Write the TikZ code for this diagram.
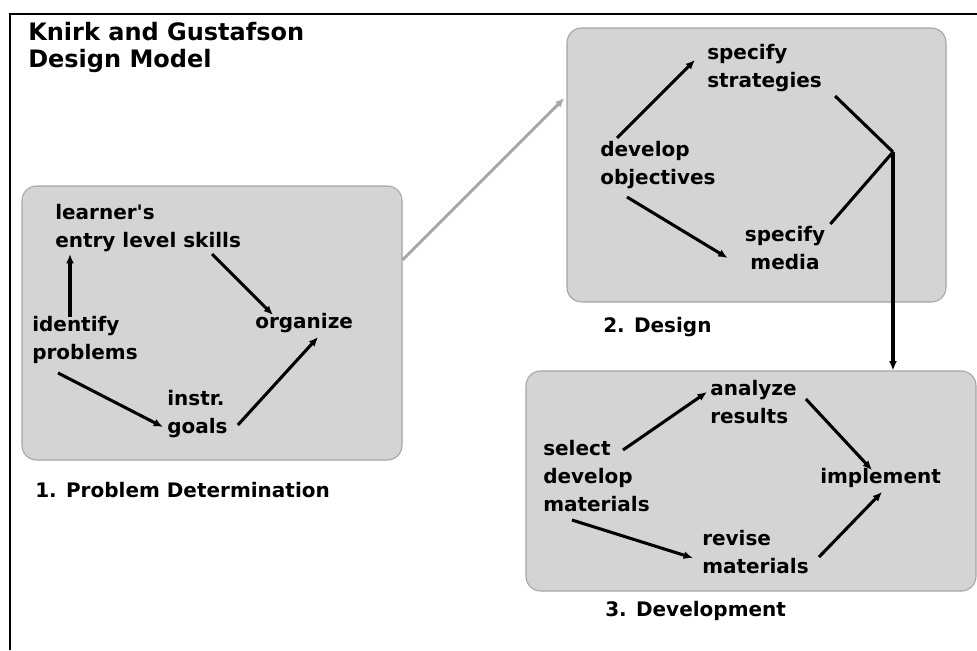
\documentclass[tikz,border=0pt]{standalone}
\usepackage{fontspec}
\setmainfont{DejaVu Sans}
\usetikzlibrary{calc,arrows.meta}

\definecolor{panelgray}{RGB}{212,212,212}
\definecolor{panelline}{RGB}{165,165,165}
\definecolor{linkgray}{RGB}{168,168,168}

\begin{document}
\begin{tikzpicture}[x=0.75pt,y=-0.75pt,
	every node/.style={inner sep=0pt,font=\bfseries\fontsize{15}{21}\selectfont},
	txt/.style={anchor=west,align=left},
	panel/.style={draw=panelline,fill=panelgray,rounded corners=11pt,line width=0.8pt},
	arr/.style={line width=2.3pt,-{Latex[length=7pt,width=6pt]}}]
				\useasboundingbox (0,0) rectangle (977,650);
				%% frame and title
				\draw[line width=1.5pt] (10,650) -- (10,14) -- (977,14);
				\node[txt,anchor=north west,font=\bfseries\fontsize{18}{20}\selectfont] (title) at (28,22){Knirk and Gustafson\\Design Model};
				%% the three panels placed by hand
				\node[panel,minimum width=285pt,minimum height=205.5pt] (prob) at (212,323){};
				\node[panel,minimum width=284.25pt,minimum height=205.5pt] (des) at (756.5,165){};
				\node[panel,minimum width=337.5pt,minimum height=165pt] (dev) at (751,481){};
				\node[txt] (probl) at (35,490){1. Problem Determination};
				\node[txt] (desl) at (603,327){2. Design};
				\node[txt] (devl) at (605,611){3. Development};
				%% step texts of panel 1
				\node[txt] (learner) at (55,228){learner\textquotesingle s\\entry level skills};
				\node[txt] (ident) at (32,340){identify\\problems};
				\node[txt] (org) at (255,323){organize};
				\node[txt] (instr) at (167,414){instr.\\goals};
				%% step texts of panel 2
				\node[txt] (strat) at (707,68){specify\\strategies};
				\node[txt] (devobj) at (600,165){develop\\objectives};
				\node[align=center] (media) at (785,248){specify\\media};
				\coordinate (jn) at (893,152);
				%% step texts of panel 3
				\node[txt] (anal) at (710,402){analyze\\results};
				\node[txt] (sel) at (543,476){select\\develop\\materials};
				\node[txt] (impl) at (820,478){implement};
				\node[txt] (rev) at (702,552){revise\\materials};
				%% arrows inside panel 1
				\draw[arr] ([shift={(38,1)}]ident.north west) -- ([shift={(15,2)}]learner.south west);
				\draw[arr] ([shift={(157,2)}]learner.south west) -- ([shift={(18,2)}]org.north west);
				\draw[arr] ([shift={(26,9)}]ident.south west) -- ([shift={(-4,13)}]instr.west);
				\draw[arr] ([shift={(10,11)}]instr.east) -- ([shift={(14,4)}]org.south);
				%% panel 1 to panel 2
				\draw[line width=2.3pt,linkgray,-{Latex[length=7pt,width=6pt]}] ([shift={(0,-63)}]prob.east) -- ([shift={(-2,-67)}]des.west);
				%% arrows inside panel 2
				\draw[arr] ([shift={(17,-3)}]devobj.north west) -- ([shift={(-12,-8)}]strat.west);
				\draw[arr] ([shift={(27,8)}]devobj.south west) -- ([shift={(-17,10)}]media.west);
				\draw[line width=2.3pt] ([shift={(13,4)}]strat.south east) -- (jn);
				\draw[line width=2.3pt] ([shift={(5,-2)}]media.north east) -- (jn);
				\draw[arr] (jn) -- (jn |- dev.north);
				%% arrows inside panel 3
				\draw[arr] ([shift={(80,10)}]sel.north west) -- ([shift={(-3,-10)}]anal.west);
				\draw[arr] ([shift={(9,-3)}]anal.east) -- ([shift={(52,2)}]impl.north west);
				\draw[arr] ([shift={(29,8)}]sel.south west) -- ([shift={(-9,6)}]rev.west);
				\draw[arr] ([shift={(10,5)}]rev.east) -- ([shift={(62,4)}]impl.south west);
				\end{tikzpicture}
\end{document}
